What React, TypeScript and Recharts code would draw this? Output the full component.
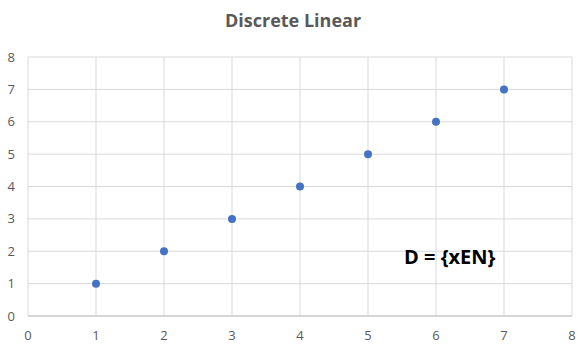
import { ScatterChart, Scatter, XAxis, YAxis, CartesianGrid } from "recharts";

const xValues = [1, 2, 3, 4, 5, 6, 7];
const yValues = [1, 2, 3, 4, 5, 6, 7];
const axisTicks = [0, 1, 2, 3, 4, 5, 6, 7, 8];

const points = xValues.map((x, i) => ({ x, y: yValues[i] }));

const FONT = "'Open Sans', 'Noto Sans', sans-serif";
const GRAY = "#595959";

const Dot = (props: any) => (
  <circle cx={props.cx} cy={props.cy} r={4} fill="#4472C4" />
);

export default function App() {
  return (
    <div style={{ position: "absolute", left: 0, top: 0, width: 586, height: 351, background: "#fff", fontFamily: FONT }}>
      <div
        style={{
          position: "absolute",
          left: 0,
          width: 586,
          top: 8,
          textAlign: "center",
          fontSize: 18,
          fontWeight: 700,
          color: GRAY,
        }}
      >
        Discrete Linear
      </div>
      <ScatterChart width={586} height={351} margin={{ top: 57, right: 14, bottom: 0, left: 0 }}>
        <CartesianGrid stroke="#d9d9d9" />
        <XAxis
          type="number"
          dataKey="x"
          domain={[0, 8]}
          ticks={axisTicks}
          height={35}
          tickLine={false}
          axisLine={{ stroke: "#bfbfbf" }}
          tickMargin={9}
          tick={{ fill: GRAY, fontSize: 13, fontFamily: FONT }}
        />
        <YAxis
          type="number"
          dataKey="y"
          domain={[0, 8]}
          ticks={axisTicks}
          width={28}
          tickLine={false}
          axisLine={false}
          tickMargin={7}
          tick={{ fill: GRAY, fontSize: 13, fontFamily: FONT }}
        />
        <Scatter data={points} shape={Dot} isAnimationActive={false} />
      </ScatterChart>
      <div
        style={{
          position: "absolute",
          left: 404,
          top: 243,
          fontSize: 20,
          fontWeight: 700,
          color: "#000",
        }}
      >
        D = {"{xEN}"}
      </div>
    </div>
  );
}
